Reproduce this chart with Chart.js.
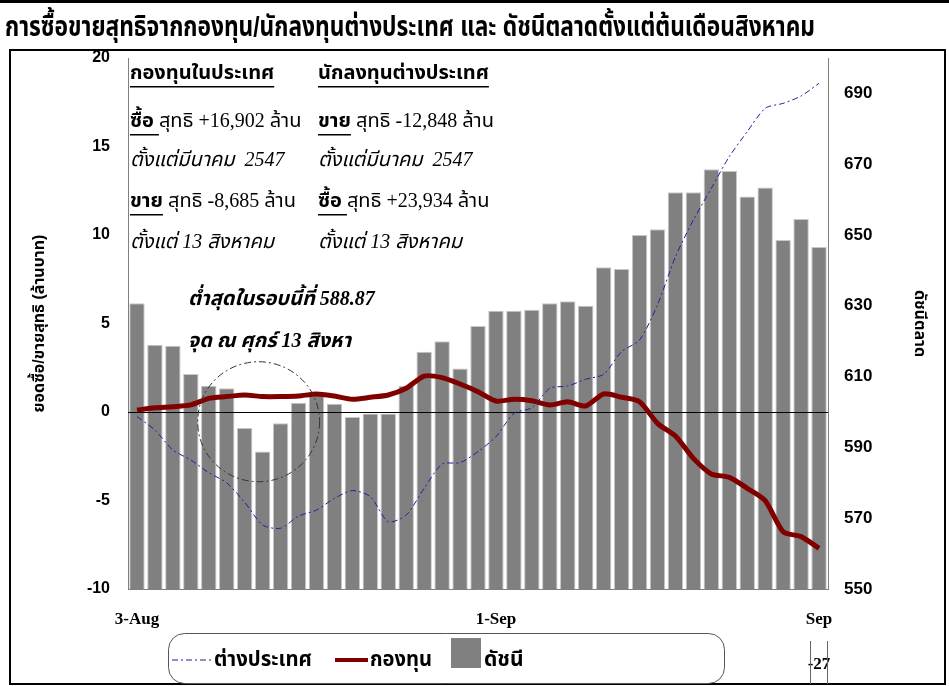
<!DOCTYPE html>
<html>
<head>
<meta charset="utf-8">
<script src="https://cdn.jsdelivr.net/npm/chart.js@4.4.1/dist/chart.umd.min.js"></script>
<style>
  body { margin: 0; background: #fff; }
  #wrap { position: relative; width: 949px; height: 686px; }
</style>
</head>
<body>
<div id="wrap"><canvas id="chart" width="949" height="686"></canvas></div>
<script>
// วันทำการ 3 ส.ค. - 27 ก.ย. 2547
const dates = ['3-Aug', '4-Aug', '5-Aug', '6-Aug', '9-Aug', '10-Aug', '11-Aug', '13-Aug', '16-Aug', '17-Aug',
  '18-Aug', '19-Aug', '20-Aug', '23-Aug', '24-Aug', '25-Aug', '26-Aug', '27-Aug', '30-Aug', '31-Aug',
  '1-Sep', '2-Sep', '3-Sep', '6-Sep', '7-Sep', '8-Sep', '9-Sep', '10-Sep', '13-Sep', '14-Sep',
  '15-Sep', '16-Sep', '17-Sep', '20-Sep', '21-Sep', '22-Sep', '23-Sep', '24-Sep', '27-Sep'];

// ดัชนี (แกนขวา)
const indexValues = [630.7, 619.0, 618.7, 610.7, 607.4, 606.7, 595.5, 588.87, 596.8, 602.6,
  605.1, 602.3, 598.6, 599.6, 599.6, 607.4, 617.0, 620.0, 612.3, 624.3,
  628.6, 628.6, 628.9, 630.7, 631.3, 630.0, 640.9, 640.4, 650.0, 651.6,
  662.1, 662.1, 668.6, 668.1, 660.9, 663.4, 648.6, 654.5, 646.6];

// กองทุน (แกนซ้าย, พันล้านบาท สะสม)
const fundValues = [0.11, 0.24, 0.30, 0.40, 0.77, 0.87, 0.96, 0.87, 0.87, 0.90,
  1.02, 0.90, 0.72, 0.83, 0.96, 1.34, 2.03, 1.94, 1.58, 1.15,
  0.62, 0.72, 0.64, 0.40, 0.58, 0.34, 1.02, 0.83, 0.58, -0.64,
  -1.36, -2.62, -3.50, -3.69, -4.31, -5.01, -6.76, -7.04, -7.70];

// ต่างประเทศ (แกนซ้าย)
const foreignValues = [-0.26, -1.02, -2.15, -2.71, -3.43, -4.0, -5.1, -6.38, -6.57, -5.88,
  -5.54, -4.88, -4.44, -4.78, -6.20, -5.82, -4.31, -2.94, -2.86, -2.24,
  -1.39, -0.08, 0.24, 1.34, 1.47, 1.85, 2.13, 3.41, 4.07, 6.05,
  8.77, 10.85, 12.64, 14.43, 15.84, 17.16, 17.44, 17.85, 18.57];

const leftTicks = [-10, -5, 0, 5, 10, 15, 20];
const rightTicks = [550, 570, 590, 610, 630, 650, 670, 690];
const tickIdx = [0, 20, 38];
const tickText = ['3-Aug', '1-Sep', ['Sep', '', '-27']];

const seriesNames = ['ต่างประเทศ', 'กองทุน', 'ดัชนี'];
const lowIndex = 7; // ศุกร์ 13 สิงหา

const thai = '"Noto Sans Thai", "Noto Serif Thai", Loma, Garuda, Kinnari, "Tlwg Typo"';
const serif = '"Liberation Serif", "Times New Roman", ' + thai + ', serif';
const sans = '"Liberation Sans", Arial, ' + thai + ', sans-serif';

function fitText(ctx, text, x, y, maxW) {
  const w = ctx.measureText(text).width;
  ctx.save();
  ctx.translate(x, y);
  if (w > maxW) ctx.scale(maxW / w, 1);
  ctx.fillText(text, 0, 0);
  ctx.restore();
}

// ข้อความหลายแบบในบรรทัดเดียว
function drawRuns(ctx, x, y, runs) {
  ctx.textAlign = 'left';
  ctx.textBaseline = 'middle';
  runs.forEach(r => {
    ctx.font = r.font;
    ctx.fillStyle = '#000';
    ctx.fillText(r.t, x, y);
    const w = ctx.measureText(r.t).width;
    if (r.u) {
      ctx.fillRect(x, y + 12, w, 1.5);
    }
    x += w;
  });
}

const decor = {
  id: 'decor',
  beforeDraw(chart) {
    const ctx = chart.ctx;
    ctx.save();
    ctx.fillStyle = '#fff';
    ctx.fillRect(0, 0, chart.width, chart.height);
    ctx.fillStyle = '#000';
    ctx.fillRect(0, 0, 949, 3);
    ctx.strokeStyle = '#000';
    ctx.lineWidth = 2;
    ctx.strokeRect(10, 50, 935, 634);
    // หัวเรื่อง
    ctx.font = 'bold 28px ' + sans;
    ctx.textBaseline = 'middle';
    fitText(ctx, 'การซื้อขายสุทธิจากกองทุน/นักลงทุนต่างประเทศ และ ดัชนีตลาดตั้งแต่ต้นเดือนสิงหาคม', 5, 28, 810);
    ctx.restore();
  },
  afterDatasetDraw(chart, args) {
    if (args.index !== 2) return;
    const ctx = chart.ctx;
    const a = chart.chartArea;
    const y0 = chart.scales.y.getPixelForValue(0);
    ctx.save();
    ctx.strokeStyle = '#000';
    ctx.lineWidth = 1;
    ctx.beginPath();
    ctx.moveTo(a.left, y0 + 0.5);
    ctx.lineTo(a.right, y0 + 0.5);
    ctx.stroke();
    ctx.restore();
  },
  afterDatasetsDraw(chart) {
    const ctx = chart.ctx;
    const x = chart.scales.x;
    const y = chart.scales.y;
    ctx.save();
    // วงรอบจุดต่ำสุด
    ctx.strokeStyle = '#333';
    ctx.lineWidth = 1;
    ctx.setLineDash([7, 3, 2, 3]);
    ctx.beginPath();
    ctx.ellipse(x.getPixelForValue(lowIndex) - 4, y.getPixelForValue(-0.55), 61, 60, 0, 0, Math.PI * 2);
    ctx.stroke();
    ctx.setLineDash([]);

    const reg = '20px ' + serif;
    const bold = 'bold 20px ' + serif;
    const ital = 'italic 20px ' + serif;
    const bi = 'italic bold 20px ' + serif;
    drawRuns(ctx, 130, 74, [{ t: 'กองทุนในประเทศ', font: bold, u: true }]);
    drawRuns(ctx, 318, 74, [{ t: 'นักลงทุนต่างประเทศ', font: bold, u: true }]);
    drawRuns(ctx, 130, 122, [{ t: 'ซื้อ ', font: bold, u: true }, { t: 'สุทธิ +16,902 ล้าน', font: reg }]);
    drawRuns(ctx, 318, 122, [{ t: 'ขาย', font: bold, u: true }, { t: ' สุทธิ -12,848 ล้าน', font: reg }]);
    drawRuns(ctx, 130, 161, [{ t: 'ตั้งแต่มีนาคม  2547', font: ital }]);
    drawRuns(ctx, 318, 161, [{ t: 'ตั้งแต่มีนาคม  2547', font: ital }]);
    drawRuns(ctx, 130, 202, [{ t: 'ขาย', font: bold, u: true }, { t: ' สุทธิ -8,685 ล้าน', font: reg }]);
    drawRuns(ctx, 318, 202, [{ t: 'ซื้อ ', font: bold, u: true }, { t: 'สุทธิ +23,934 ล้าน', font: reg }]);
    drawRuns(ctx, 130, 243, [{ t: 'ตั้งแต่ 13 สิงหาคม', font: ital }]);
    drawRuns(ctx, 318, 243, [{ t: 'ตั้งแต่ 13 สิงหาคม', font: ital }]);
    drawRuns(ctx, 188, 300, [{ t: 'ต่ำสุดในรอบนี้ที่ 588.87', font: bi }]);
    drawRuns(ctx, 188, 342, [{ t: 'จุด ณ ศุกร์ 13 สิงหา', font: bi }]);
    ctx.restore();
  },
  afterDraw(chart) {
    const ctx = chart.ctx;
    const ds = chart.data.datasets;
    ctx.save();
    // กรอบคำอธิบาย
    ctx.strokeStyle = '#555';
    ctx.lineWidth = 1;
    ctx.beginPath();
    ctx.roundRect(168.5, 633.5, 556, 50, 16);
    ctx.stroke();
    const ly = 660;
    ctx.strokeStyle = ds[0].borderColor;
    ctx.setLineDash(ds[0].borderDash);
    ctx.beginPath();
    ctx.moveTo(172, ly);
    ctx.lineTo(211, ly);
    ctx.stroke();
    ctx.setLineDash([]);
    ctx.strokeStyle = ds[1].borderColor;
    ctx.lineWidth = 4;
    ctx.beginPath();
    ctx.moveTo(335, ly);
    ctx.lineTo(368, ly);
    ctx.stroke();
    ctx.fillStyle = ds[2].backgroundColor;
    ctx.fillRect(451, 638, 30, 30);
    ctx.fillStyle = '#000';
    ctx.font = 'bold 21px ' + sans;
    ctx.textBaseline = 'middle';
    fitText(ctx, ds[0].label, 214, ly, 98);
    fitText(ctx, ds[1].label, 370, ly, 62);
    fitText(ctx, ds[2].label, 484, ly, 42);
    // เส้นข้าง -27
    const tx = chart.scales.x.getPixelForValue(38);
    ctx.strokeStyle = '#666';
    ctx.lineWidth = 1;
    ctx.beginPath();
    ctx.moveTo(tx - 8.5, 641);
    ctx.lineTo(tx - 8.5, 684);
    ctx.moveTo(tx + 8.5, 641);
    ctx.lineTo(tx + 8.5, 684);
    ctx.stroke();
    ctx.restore();
  }
};

new Chart(document.getElementById('chart'), {
  type: 'bar',
  data: {
    labels: dates,
    datasets: [{
      type: 'line',
      label: seriesNames[0],
      data: foreignValues,
      yAxisID: 'y',
      borderColor: '#1f1fa0',
      borderWidth: 1,
      borderDash: [6, 3, 2, 3],
      pointRadius: 0,
      tension: 0.25,
      order: 0
    }, {
      type: 'line',
      label: seriesNames[1],
      data: fundValues,
      yAxisID: 'y',
      borderColor: '#800000',
      borderWidth: 5,
      pointRadius: 0,
      tension: 0.25,
      order: 1
    }, {
      type: 'bar',
      label: seriesNames[2],
      data: indexValues,
      yAxisID: 'y1',
      backgroundColor: '#808080',
      borderColor: '#c8c8c8',
      borderWidth: 1,
      categoryPercentage: 1,
      barPercentage: 0.86,
      order: 2
    }]
  },
  options: {
    responsive: false,
    animation: false,
    layout: { padding: { left: 14, right: 14, top: 58, bottom: 0 } },
    plugins: { legend: { display: false }, tooltip: { enabled: false } },
    scales: {
      x: {
        offset: true,
        grid: { display: false, drawTicks: false },
        border: { display: true, color: '#808080' },
        ticks: {
          autoSkip: false,
          maxRotation: 0,
          padding: 20,
          color: '#000',
          font: { family: serif, weight: 'bold', size: 17, lineHeight: 1.3 },
          callback: (v, i) => {
            const k = tickIdx.indexOf(i);
            return k < 0 ? '' : tickText[k];
          }
        },
        afterFit: s => { s.height = 97; }
      },
      y: {
        position: 'left',
        min: -10,
        max: 20,
        afterBuildTicks: s => { s.ticks = leftTicks.map(v => ({ value: v })); },
        grid: { display: false, drawTicks: false },
        border: { display: true, color: '#808080' },
        ticks: { padding: 18, color: '#000', font: { family: sans, weight: 'bold', size: 16 } },
        title: {
          display: true,
          text: 'ยอดซื้อ/ขายสุทธิ (ล้านบาท)',
          color: '#000',
          font: { family: sans, weight: 'bold', size: 16 },
          padding: { top: 16, bottom: 0 }
        },
        afterFit: s => { s.width = 114; }
      },
      y1: {
        position: 'right',
        min: 550,
        max: 700,
        afterBuildTicks: s => { s.ticks = rightTicks.map(v => ({ value: v })); },
        grid: { display: false, drawTicks: false },
        border: { display: true, color: '#808080' },
        ticks: { padding: 16, color: '#000', font: { family: sans, weight: 'bold', size: 17 } },
        title: {
          display: true,
          text: 'ดัชนีตลาด',
          color: '#000',
          font: { family: sans, weight: 'bold', size: 16 },
          padding: { top: 6, bottom: 0 }
        },
        afterFit: s => { s.width = 107; }
      }
    }
  },
  plugins: [decor]
});
</script>
</body>
</html>
